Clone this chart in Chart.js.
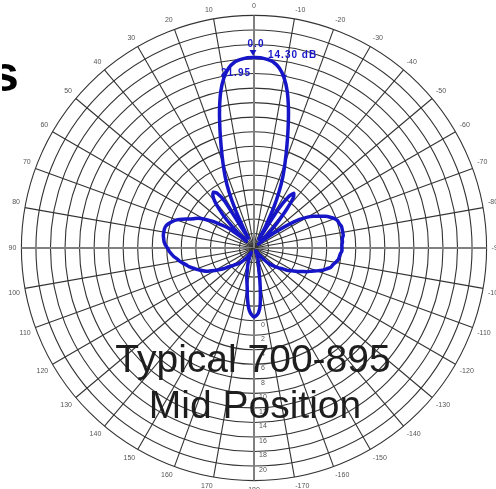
<!DOCTYPE html>
<html>
<head>
<meta charset="utf-8">
<script src="https://cdn.jsdelivr.net/npm/chart.js@4.4.1/dist/chart.umd.min.js"></script>
<style>
    html, body { margin: 0; padding: 0; background: #fff; }
    #wrap { position: relative; width: 496px; height: 489px; overflow: hidden; }
    #box { position: absolute; left: 2px; top: 2px; width: 508px; height: 492px; }
</style>
</head>
<body>
<div id="wrap"><div id="box"><canvas id="pattern"></canvas></div></div>
<script>
// azimuth (deg, counter-clockwise positive), one entry every 2 deg going clockwise from 0
const angles = [0,-2,-4,-6,-8,-10,-12,-14,-16,-18,-20,-22,-24,-26,-28,-30,-32,-34,-36,-38,
    -40,-42,-44,-46,-48,-50,-52,-54,-56,-58,-60,-62,-64,-66,-68,-70,-72,-74,-76,-78,
    -80,-82,-84,-86,-88,-90,-92,-94,-96,-98,-100,-102,-104,-106,-108,-110,-112,-114,-116,-118,
    -120,-122,-124,-126,-128,-130,-132,-134,-136,-138,-140,-142,-144,-146,-148,-150,-152,-154,-156,-158,
    -160,-162,-164,-166,-168,-170,-172,-174,-176,-178,180,178,176,174,172,170,168,166,164,162,
    160,158,156,154,152,150,148,146,144,142,140,138,136,134,132,130,128,126,124,122,
    120,118,116,114,112,110,108,106,104,102,100,98,96,94,92,90,88,86,84,82,
    80,78,76,74,72,70,68,66,64,62,60,58,56,54,52,50,48,46,44,42,
    40,38,36,34,32,30,28,26,24,22,20,18,16,14,12,10,8,6,4,2];

// pattern level in dB, same order as angles
const gain = [16.2, 16.2, 16.0, 15.7, 15.0, 13.8, 12.0, 9.6, 7.0, 4.6,
    2.5, 0.6, -1.5, -3.8, -6.6, -8.6, -3.8, -1.5, -0.7, -1.2,
    -2.9, -4.8, -6.3, -8.1, -9.2, -8.4, -7.3, -5.9, -4.2, -2.6,
    -1.5, -0.7, 0.0, 0.7, 1.3, 1.8, 2.1, 2.2, 2.4, 2.4,
    2.4, 2.4, 2.2, 2.2, 2.1, 2.1, 2.1, 1.9, 1.8, 1.7,
    1.4, 1.1, 0.9, 0.4, -0.1, -0.8, -1.5, -2.0, -2.6, -3.1,
    -3.7, -4.1, -4.5, -5.1, -5.5, -5.9, -6.2, -6.6, -7.0, -7.5,
    -8.1, -8.6, -9.0, -9.3, -9.5, -9.5, -9.3, -9.2, -8.9, -8.6,
    -8.4, -8.1, -7.8, -7.4, -6.6, -5.3, -3.7, -2.0, -1.1, -0.7,
    -0.5, -0.8, -1.3, -2.2, -3.4, -4.6, -5.3, -5.9, -6.6, -7.1,
    -7.5, -7.9, -8.4, -8.6, -8.9, -9.2, -9.3, -9.2, -8.8, -8.2,
    -7.8, -7.4, -7.1, -6.8, -6.6, -6.3, -5.9, -5.5, -4.9, -4.4,
    -3.8, -3.3, -2.7, -2.3, -1.9, -1.5, -1.1, -0.7, -0.4, 0.0,
    0.4, 0.7, 1.1, 1.4, 1.7, 1.9, 2.2, 2.4, 2.5, 2.6,
    2.6, 2.6, 2.5, 2.2, 1.8, 1.3, 0.6, -0.2, -0.8, -1.3,
    -2.0, -2.9, -3.8, -4.8, -5.7, -7.5, -8.6, -6.6, -4.5, -2.9,
    -1.6, -0.8, -0.5, -0.9, -2.4, -8.4, -7.0, -4.2, -1.5, 0.6,
    2.5, 4.6, 7.0, 9.6, 12.0, 13.8, 15.0, 15.7, 16.0, 16.2];

// ring labels printed along the 180 deg axis
const ringLabels = [0, 2, 4, 6, 8, 10, 12, 14, 16, 18, 20];

// marker read-outs
const peakText = '0.0';
const peakGain = '14.30 dB';
const beamWidth = '21.95';
const beamEdges = [5, 175];   // indexes of the -3 dB marks

const titleLines = ['Typical 700-895', 'Mid Position'];

const FONT = '"Liberation Sans", Arial, sans-serif';
const BLUE = '#1616c8';

function tri(ctx, x, y, s) {
    ctx.beginPath();
    ctx.moveTo(x - s, y - s);
    ctx.lineTo(x + s, y - s);
    ctx.lineTo(x, y + s * 0.6);
    ctx.closePath();
    ctx.fill();
}

const extras = {
    id: 'extras',
    afterDraw(chart) {
        const ctx = chart.ctx;
        const r = chart.scales.r;
        ctx.save();

        // ring values below the centre
        ctx.fillStyle = '#555';
        ctx.font = '7px ' + FONT;
        ctx.textAlign = 'center';
        ctx.textBaseline = 'middle';
        ringLabels.forEach(v => {
            const d = r.getDistanceFromCenterForValue(v);
            ctx.fillText(String(v), r.xCenter + 9, r.yCenter + d + 4);
        });

        // peak + beamwidth markers
        const peak = r.getPointPositionForValue(0, gain[0]);
        ctx.fillStyle = BLUE;
        tri(ctx, peak.x - 1, peak.y - 4, 3.5);
        beamEdges.forEach(i => {
            const p = r.getPointPositionForValue(i, gain[i]);
            tri(ctx, p.x, p.y, 3);
        });
        ctx.font = 'bold 10px ' + FONT;
        ctx.letterSpacing = '1px';
        ctx.textAlign = 'center';
        ctx.textBaseline = 'alphabetic';
        ctx.fillText(peakText, peak.x + 2, peak.y - 11);
        ctx.textAlign = 'left';
        ctx.fillText(peakGain, peak.x + 14, peak.y + 0);
        ctx.fillText(beamWidth, peak.x - 33, peak.y + 18);
        ctx.letterSpacing = '0px';

        // caption
        ctx.fillStyle = '#1e1e1e';
        ctx.font = '39px ' + FONT;
        ctx.textAlign = 'center';
        ctx.fillText(titleLines[0], r.xCenter - 1, 370);
        ctx.fillText(titleLines[1], r.xCenter + 1, 416);

        // leftover letter of the slide heading
        ctx.fillStyle = '#000';
        ctx.font = 'bold 50px ' + FONT;
        ctx.textAlign = 'left';
        ctx.fillText('s', -11, 89);
        ctx.restore();
    }
};

const isAxis = a => a % 90 === 0;

new Chart(document.getElementById('pattern'), {
    type: 'radar',
    data: {
        labels: angles,
        datasets: [{
            data: gain,
            borderColor: BLUE,
            borderWidth: 3.5,
            fill: false,
            tension: 0.15,
            pointRadius: 0
        }]
    },
    options: {
        responsive: true,
        maintainAspectRatio: false,
        animation: false,
        plugins: {legend: {display: false}, tooltip: {enabled: false}},
        scales: {
            r: {
                min: -10,
                max: 22,
                ticks: {stepSize: 2, display: false},
                grid: {circular: true, color: '#333', lineWidth: 1.1},
                angleLines: {
                    color: c => angles[c.index] % 10 !== 0 ? 'rgba(0,0,0,0)' : (isAxis(angles[c.index]) ? '#808080' : '#333'),
                    lineWidth: c => isAxis(angles[c.index]) ? 2 : 1.1
                },
                pointLabels: {
                    padding: 5,
                    color: '#555',
                    font: {size: 7, family: FONT},
                    callback: v => (v % 10 === 0 ? String(v) : '')
                }
            }
        }
    },
    plugins: [extras]
});
</script>
</body>
</html>
